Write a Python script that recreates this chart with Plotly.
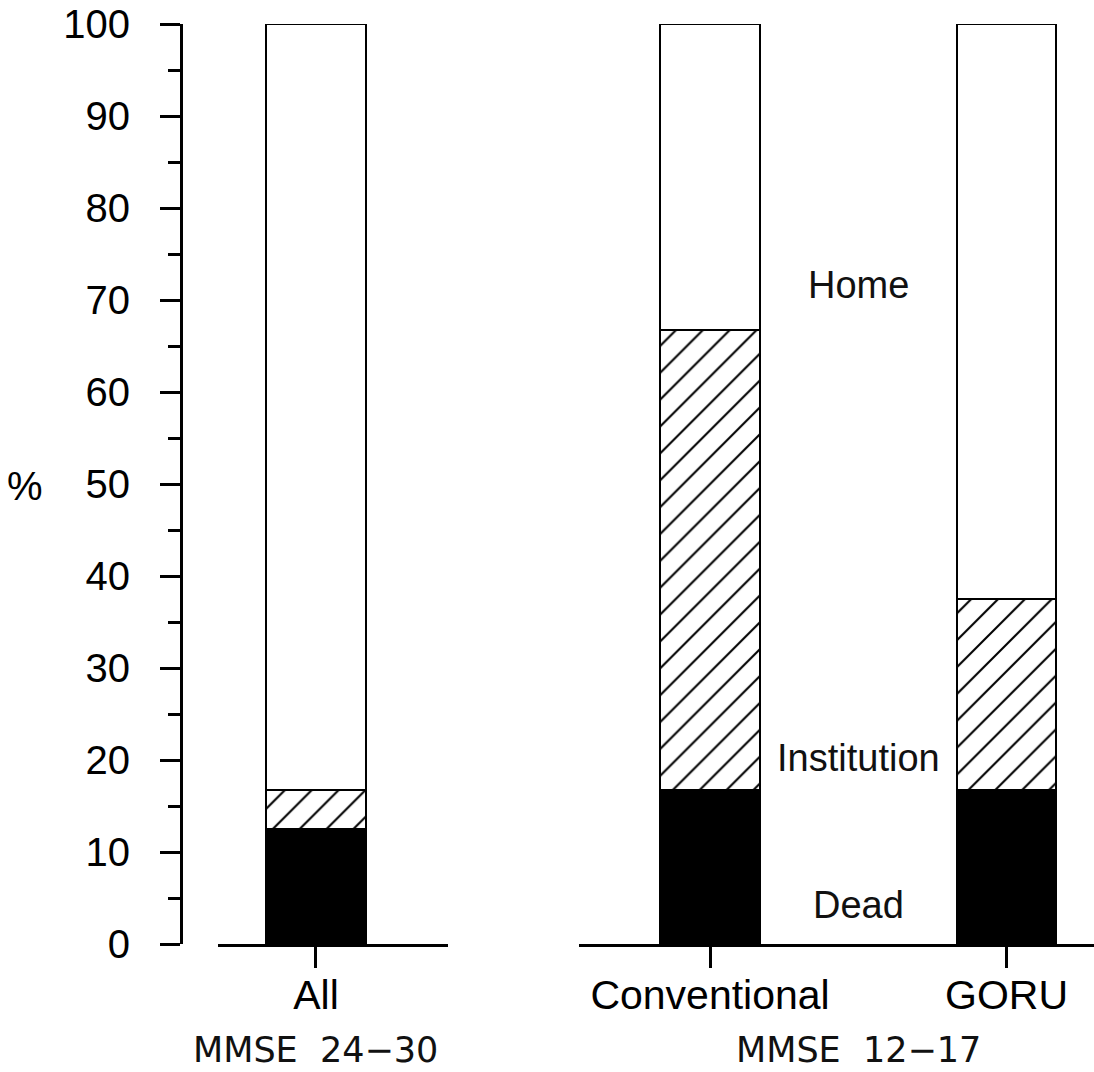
import plotly.graph_objects as go

# ---- data ----
cats_left = ["All"]
cats_right = ["Conventional", "GORU"]
dead = [12.5, 16.7, 16.7]
institution = [4.2, 50.0, 20.8]
home = [83.3, 33.3, 62.5]
group_labels = ["MMSE  24\u221230", "MMSE  12\u221217"]
segment_labels = ["Home", "Institution", "Dead"]
segment_label_y = [71.6, 20.2, 4.2]
y_ticks = list(range(0, 101, 10))

FONT = "Liberation Sans"
THIN = "DejaVu Sans"
LINE = dict(color="black", width=2.5)

fig = go.Figure()

def add_stack(xs, d, i, h, xaxis, width):
    fig.add_trace(go.Bar(x=xs, y=d, width=width, xaxis=xaxis, yaxis="y",
                         marker=dict(color="black", line=LINE), showlegend=False))
    fig.add_trace(go.Bar(x=xs, y=i, width=width, xaxis=xaxis, yaxis="y",
                         marker=dict(color="white", line=LINE,
                                     pattern=dict(shape="/", fgcolor="#000000", bgcolor="white",
                                                  fgopacity=1, fillmode="replace",
                                                  size=19, solidity=0.11)),
                         showlegend=False))
    fig.add_trace(go.Bar(x=xs, y=h, width=width, xaxis=xaxis, yaxis="y",
                         marker=dict(color="white", line=LINE), showlegend=False))

add_stack(cats_left, dead[:1], institution[:1], home[:1], "x", 0.435)
add_stack(cats_right, dead[1:], institution[1:], home[1:], "x2", 0.337)

W, H = 1094, 1072
top, bottom = 24, 944
plot_h = bottom - top

xcommon = dict(showline=True, linecolor="black", linewidth=3, ticks="outside",
               ticklen=21, tickwidth=2.5, tickcolor="black", showgrid=False,
               zeroline=False, tickfont=dict(family=FONT, size=41, color="black"),
               ticklabelstandoff=-8,
               type="category", anchor="y")

fig.update_layout(
    width=W, height=H, template="simple_white",
    plot_bgcolor="white", paper_bgcolor="white",
    margin=dict(l=0, r=0, t=top, b=H - bottom),
    barmode="stack", bargap=0,
    xaxis=dict(domain=[218 / W, 448 / W], range=[-0.426, 0.574], **xcommon),
    xaxis2=dict(domain=[579 / W, 1.0], range=[-0.442, 1.295], **xcommon),
    yaxis=dict(range=[0, 100], anchor="free", position=181 / W,
               showline=True, linecolor="black", linewidth=3,
               tickvals=y_ticks, ticks="outside", ticklen=20, tickwidth=3,
               tickcolor="black", ticklabelstandoff=22,
               minor=dict(dtick=5, ticks="outside", ticklen=12, tickwidth=3,
                          tickcolor="black"),
               showgrid=False, zeroline=False,
               tickfont=dict(family=FONT, size=40, color="black")),
)

# group labels under axes
for lab, xr, xv in zip(group_labels, ["x", "x2"], [0, 0.5]):
    fig.add_annotation(text=lab, xref=xr, x=xv, yref="paper",
                       y=-(H - bottom) / plot_h, yanchor="bottom",
                       showarrow=False,
                       font=dict(family=THIN, size=35, color="#111"))

for t, yv in zip(segment_labels, segment_label_y):
    fig.add_annotation(text=t, xref="x2", x=0.5, yref="y", y=yv, showarrow=False,
                       font=dict(family=FONT, size=38, color="#111"))

fig.add_annotation(text="%", xref="paper", x=25 / W, xanchor="center", yref="y", y=49.8,
                   showarrow=False, font=dict(family=FONT, size=40, color="black"))

fig.write_html("out.html")
